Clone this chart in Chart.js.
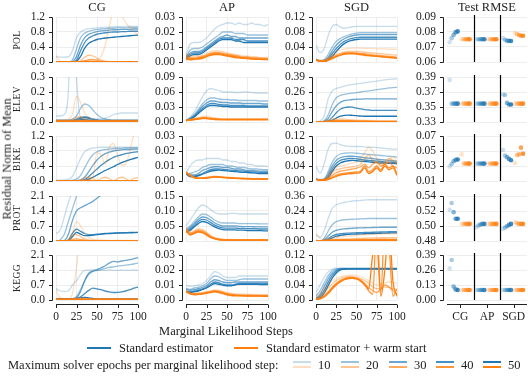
<!DOCTYPE html>
<html>
<head>
<meta charset="utf-8">
<title>Residual norm of mean</title>
<script src="https://cdn.jsdelivr.net/npm/chart.js@4.4.1/dist/chart.umd.min.js"></script>
<style>
  body { margin: 0; width: 528px; height: 376px; position: relative; overflow: hidden; background: #fff;
         font-family: 'Liberation Serif', serif; color: #222; }
  canvas { position: absolute; }
  .txt { position: absolute; white-space: nowrap; font-size: 12.5px; line-height: 1; transform: translate(-50%, -50%); }
  .left { transform: translate(0, -50%); }
  .rot { transform: translate(-50%, -50%) rotate(-90deg); }
  .row { font-size: 9.5px; letter-spacing: 0.4px; }
  .sw { position: absolute; height: 2px; }
</style>
</head>
<body>
<script>
// marginal likelihood steps (x values of every line)
const STEPS = [0, 5, 10, 15, 20, 25, 30, 35, 40, 45, 50, 55, 60, 65, 70, 75, 80, 85, 90, 95, 100];
const EPOCHS = [10, 20, 30, 40, 50];
const DATASETS = ['POL', 'ELEV', 'BIKE', 'PROT', 'KEGG'];
const SOLVERS = ['CG', 'AP', 'SGD'];

// y ticks per row: CG, AP, SGD, Test RMSE
const POL_TICKS = [[0, 0.4, 0.8, 1.2], [0, 0.01, 0.02, 0.03], [0, 0.04, 0.08, 0.12], [0.06, 0.07, 0.08, 0.09]];
const ELEV_TICKS = [[0, 0.1, 0.2, 0.3], [0, 0.03, 0.06, 0.09], [0, 0.13, 0.26, 0.39], [0.33, 0.35, 0.37, 0.39]];
const BIKE_TICKS = [[0, 0.4, 0.8, 1.2], [0, 0.01, 0.02, 0.03], [0, 0.04, 0.08, 0.12], [0.01, 0.03, 0.05, 0.07]];
const PROT_TICKS = [[0, 0.7, 1.4, 2.1], [0, 0.05, 0.1, 0.15], [0, 0.12, 0.24, 0.36], [0.48, 0.5, 0.52, 0.54]];
const KEGG_TICKS = [[0, 0.7, 1.4, 2.1], [0, 0.01, 0.02, 0.03], [0, 0.04, 0.08, 0.12], [0, 0.13, 0.26, 0.39]];
const TICK_DECIMALS = [1, 2, 2, 2];

// ---- POL ----
const POL_CG_STD = [
  [.14,.13,.13,.14,.30, .65,.80,.86,.89,.90, .91,.92,.93,.93,.94, .94,.94,.95,.95,.95, .95],
  [0,0,0,0,.05, .35,.65,.77,.82,.85, .87,.88,.89,.90,.90, .91,.91,.91,.92,.92, .92],
  [0,0,0,0,.01, .15,.45,.65,.74,.78, .81,.83,.84,.85,.86, .86,.87,.87,.87,.88, .88],
  [0,0,0,0,0, .05,.30,.52,.64,.70, .74,.76,.78,.79,.80, .80,.81,.81,.82,.82, .82],
  [0,0,0,0,0, .02,.15,.37,.50,.56, .60,.62,.64,.65,.66, .67,.68,.69,.70,.71, .72]
];
const POL_CG_WARM = [
  [.18,.02,0,0,0, 0,0,0,0,.01, .05,.15,.45,.95,1.35, 1.4,1.25,1.05,.92,.82, .72],
  [0,0,0,0,0, .01,.04,.13,.18,.16, .10,.05,.02,.01,.01, .01,.01,.01,.01,.01, .01],
  [0,0,0,0,0, 0,.01,.03,.06,.07, .05,.02,.01,.01,.01, .01,.01,.01,.01,.01, .01],
  [0,0,0,0,0, 0,.01,.02,.02,.02, .01,.01,.01,.01,.01, .01,.01,.01,.01,.01, .01],
  [0,0,0,0,0, 0,0,.01,.01,.01, .01,.01,.01,.01,.01, .01,.01,.01,.01,.01, .01]
];
const POL_AP_STD = [
  [.004,.012,.013,.013,.014, .016,.019,.022,.024,.025, .026,.026,.025,.026,.025, .025,.026,.025,.025,.024, .025],
  [.003,.008,.009,.009,.010, .012,.014,.016,.018,.020, .020,.020,.019,.019,.019, .018,.018,.018,.018,.018, .018],
  [.003,.006,.007,.007,.008, .010,.012,.014,.016,.017, .018,.017,.017,.016,.016, .016,.016,.016,.016,.016, .016],
  [.003,.005,.006,.006,.007, .009,.011,.013,.015,.016, .016,.016,.015,.015,.015, .014,.014,.014,.014,.014, .014],
  [.002,.004,.005,.005,.006, .008,.010,.012,.014,.015, .015,.015,.014,.014,.013, .013,.013,.013,.013,.013, .013]
];
const POL_AP_WARM = [
  [.006,.004,.004,.004,.005, .006,.007,.0075,.0075,.007, .006,.0055,.005,.0045,.004, .004,.0035,.0035,.003,.003, .003],
  [.005,.003,.003,.0035,.004, .005,.006,.0065,.0065,.006, .0055,.005,.0045,.004,.0035, .0035,.003,.003,.0028,.0027, .0026],
  [.004,.0025,.0025,.003,.0035, .0045,.0055,.006,.006,.0055, .005,.0045,.004,.0035,.003, .003,.0027,.0025,.0024,.0023, .0022],
  [.003,.002,.002,.0025,.003, .004,.005,.0055,.0055,.005, .0045,.004,.0035,.003,.0027, .0025,.0023,.0021,.002,.0019, .0018],
  [.002,.0015,.0018,.002,.0025, .0035,.0045,.005,.005,.0045, .004,.0035,.003,.0027,.0024, .0022,.002,.0018,.0017,.0016, .0015]
];
const POL_SGD_STD = [
  [.045,.025,.035,.07,.095, .10,.093,.09,.092,.094, .095,.095,.095,.095,.095, .095,.095,.095,.095,.095, .095],
  [.006,.004,.006,.02,.04, .055,.063,.068,.072,.075, .077,.078,.078,.078,.078, .078,.078,.078,.078,.078, .078],
  [.006,.003,.004,.012,.03, .045,.055,.062,.067,.07, .072,.073,.073,.073,.073, .073,.073,.073,.073,.073, .073],
  [.006,.003,.003,.008,.022, .036,.047,.055,.06,.063, .065,.066,.066,.066,.066, .066,.066,.066,.066,.066, .066],
  [.006,.002,.002,.005,.015, .028,.04,.049,.055,.058, .06,.061,.061,.061,.061, .061,.061,.061,.061,.061, .061]
];
const POL_SGD_WARM = [
  [.007,.004,.006,.012,.02, .027,.032,.035,.036,.037, .037,.037,.036,.036,.036, .035,.035,.035,.034,.034, .034],
  [.006,.003,.004,.009,.015, .02,.024,.027,.028,.028, .028,.027,.026,.025,.024, .023,.022,.021,.02,.019, .018],
  [.006,.002,.003,.007,.012, .017,.021,.024,.025,.025, .024,.023,.022,.021,.019, .018,.017,.016,.015,.014, .013],
  [.006,.002,.002,.005,.01, .015,.019,.022,.023,.023, .022,.021,.02,.018,.017, .016,.015,.014,.013,.012, .011],
  [.006,.002,.002,.004,.009, .014,.018,.021,.022,.022, .021,.02,.018,.017,.016, .015,.014,.013,.012,.011, .01]
];
// test RMSE per solver group (CG, AP, SGD), one value per epoch budget
const POL_RMSE_STD = [[.0732, .0759, .0781, .0799, .0804], [.0752, .0752, .0752, .0752, .0752], [.0759, .0748, .0741, .0741, .074]];
const POL_RMSE_WARM = [[.0752, .0752, .0752, .0752, .0752], [.0752, .0752, .0752, .0752, .0752], [.0793, .0786, .078, .0775, .0775]];

// ---- ELEV ----
const ELEV_CG_STD = [
  [.04,.04,.05,.2,1, .3,.03,.02,.02,.02, .02,.02,.025,.035,.05, .055,.06,.06,.06,.06, .06],
  [.01,.01,.01,.01,.02, .04,.09,.12,.11,.08, .05,.03,.02,.015,.01, .01,.01,.01,.01,.01, .01],
  [.01,.01,.01,.01,.01, .02,.03,.035,.03,.02, .015,.01,.01,.01,.01, .01,.01,.01,.01,.01, .01],
  [.01,.01,.01,.01,.01, .015,.025,.03,.025,.015, .01,.01,.01,.01,.01, .01,.01,.01,.01,.01, .01],
  [.008,.008,.008,.008,.008, .01,.015,.015,.012,.01, .008,.008,.008,.008,.008, .008,.008,.008,.008,.008, .008]
];
const ELEV_CG_WARM = [
  [.01,.01,.01,.02,.05, .17,.13,.06,.03,.015, .01,.01,.01,.01,.01, .01,.01,.01,.01,.01, .01],
  [.01,.01,.01,.01,.015, .03,.035,.02,.01,.01, .008,.008,.008,.008,.008, .008,.008,.008,.008,.008, .008],
  [.006,.006,.006,.006,.008, .012,.012,.01,.008,.006, .006,.006,.006,.006,.006, .006,.006,.006,.006,.006, .006],
  [.005,.005,.005,.005,.005, .006,.006,.006,.005,.005, .005,.005,.005,.005,.005, .005,.005,.005,.005,.005, .005],
  [.005,.005,.005,.005,.005, .005,.005,.005,.005,.005, .005,.005,.005,.005,.005, .005,.005,.005,.005,.005, .005]
];
const ELEV_AP_STD = [
  [.003,.01,.02,.035,.05, .062,.067,.065,.063,.06, .06,.06,.059,.059,.06, .06,.059,.058,.058,.058, .058],
  [.003,.008,.015,.025,.036, .044,.048,.048,.046,.045, .045,.044,.044,.043,.043, .043,.043,.043,.042,.042, .042],
  [.003,.007,.013,.022,.031, .038,.042,.042,.04,.039, .039,.038,.038,.038,.037, .037,.037,.037,.037,.036, .036],
  [.003,.006,.011,.019,.027, .033,.037,.037,.035,.034, .034,.033,.033,.033,.033, .032,.032,.032,.032,.032, .032],
  [.003,.005,.01,.017,.024, .03,.033,.033,.032,.031, .031,.03,.03,.03,.03, .03,.03,.03,.03,.03, .03]
];
const ELEV_AP_WARM = [
  [.003,.005,.007,.009,.011, .012,.01,.008,.007,.006, .006,.006,.006,.006,.006, .006,.006,.006,.006,.006, .006],
  [.003,.005,.006,.008,.009, .009,.008,.007,.006,.0055, .0055,.0055,.0055,.0055,.0055, .0055,.0055,.0055,.0055,.0055, .0055],
  [.003,.004,.006,.007,.008, .008,.007,.006,.0055,.005, .005,.005,.005,.005,.005, .005,.005,.005,.005,.005, .005],
  [.003,.004,.005,.0065,.0075, .0075,.0065,.0055,.005,.005, .005,.005,.005,.005,.005, .005,.005,.005,.005,.005, .005],
  [.003,.004,.005,.006,.007, .007,.006,.005,.005,.0048, .0048,.0048,.0048,.0048,.0048, .0048,.0048,.0048,.0048,.0048, .0048]
];
const ELEV_SGD_STD = [
  [0,.01,.05,.2,.27, .29,.3,.31,.32,.325, .33,.335,.34,.345,.35, .355,.36,.365,.37,.372, .375],
  [0,0,.01,.06,.15, .21,.23,.24,.245,.25, .255,.26,.265,.27,.275, .28,.285,.29,.295,.298, .3],
  [0,0,.005,.03,.09, .14,.17,.185,.19,.195, .197,.198,.2,.2,.2, .2,.2,.2,.2,.2, .2],
  [0,0,0,.01,.04, .08,.11,.125,.13,.128, .12,.113,.108,.104,.1, .1,.1,.1,.1,.1, .1],
  [0,0,0,.005,.015, .035,.05,.058,.06,.058, .055,.052,.05,.05,.05, .05,.05,.05,.05,.05, .05]
];
const ELEV_SGD_WARM = [
  [0,0,.005,.015,.025, .03,.028,.025,.022,.02, .018,.016,.015,.014,.013, .012,.012,.011,.011,.01, .01],
  [0,0,.003,.01,.016, .02,.019,.017,.015,.013, .012,.011,.01,.009,.009, .008,.008,.008,.007,.007, .007],
  [0,0,.002,.006,.01, .012,.012,.011,.01,.009, .008,.007,.007,.006,.006, .006,.005,.005,.005,.005, .005],
  [0,0,.001,.004,.007, .008,.008,.007,.007,.006, .006,.005,.005,.005,.004, .004,.004,.004,.004,.004, .004],
  [0,0,.001,.003,.005, .006,.006,.006,.005,.005, .004,.004,.004,.004,.003, .003,.003,.003,.003,.003, .003]
];
const ELEV_RMSE_STD = [[.386, .3545, .3545, .3545, .3545], [.3545, .3545, .3545, .3545, .3545], [.3667, .366, .3555, .3533, .3533]];
const ELEV_RMSE_WARM = [[.3545, .3545, .3545, .3545, .3545], [.3545, .3545, .3545, .3545, .3545], [.3545, .3545, .3545, .3545, .3545]];

// ---- BIKE ----
const BIKE_CG_STD = [
  [.02,.02,.03,.05,.12, .35,.6,.78,.85,.88, .89,.9,.9,.9,.9, .9,.9,.9,.9,.9, .9],
  [.01,.01,.01,.01,.02, .05,.15,.35,.55,.7, .78,.82,.84,.85,.86, .87,.87,.88,.88,.88, .88],
  [0,0,0,0,0, .01,.03,.1,.25,.42, .56,.66,.73,.77,.8, .82,.83,.84,.84,.85, .85],
  [0,0,0,0,0, 0,.01,.04,.12,.22, .32,.42,.5,.57,.63, .67,.7,.73,.75,.77, .78],
  [0,0,0,0,0, 0,0,.01,.05,.1, .16,.22,.28,.33,.38, .44,.49,.53,.57,.6, .63]
];
const BIKE_CG_WARM = [
  [0,0,0,0,0, 0,0,0,.02,.1, .75,.7,.45,.9,1.0, .7,.42,.45,.8,1.25, 1.4],
  [0,0,0,0,0, 0,.02,.08,.1,.06, .01,.06,.1,.06,.01, .06,.1,.06,.01,.07, .09],
  [0,0,0,0,0, 0,.01,.02,.02,.01, .01,.01,.01,.01,.01, .01,.01,.01,.01,.01, .01],
  [.005,.005,.005,.005,.005, .005,.005,.005,.005,.005, .005,.005,.005,.005,.005, .005,.005,.005,.005,.005, .005],
  [.005,.005,.005,.005,.005, .005,.005,.005,.005,.005, .005,.005,.005,.005,.005, .005,.005,.005,.005,.005, .005]
];
const BIKE_AP_STD = [
  [.005,.01,.013,.014,.014, .015,.015,.015,.015,.014, .014,.013,.013,.012,.012, .011,.011,.01,.01,.01, .0095],
  [.005,.005,.006,.007,.009, .01,.011,.011,.011,.011, .01,.01,.0095,.009,.009, .0085,.008,.008,.0078,.0076, .0075],
  [.005,.004,.004,.005,.007, .008,.009,.0095,.0095,.009, .009,.0085,.008,.008,.0075, .007,.007,.0068,.0066,.0065, .0065],
  [.005,.003,.003,.004,.005, .0065,.0075,.008,.008,.0078, .0075,.0072,.007,.0068,.0066, .0063,.006,.006,.0058,.0056, .0055],
  [.005,.003,.003,.0035,.0045, .0055,.0065,.007,.0072,.007, .0068,.0065,.0062,.006,.0058, .0056,.0054,.0052,.005,.005, .005]
];
const BIKE_AP_WARM = [
  [.005,.003,.002,.002,.0022, .0025,.003,.0032,.003,.0028, .0026,.0024,.0022,.002,.002, .0019,.0018,.0017,.0017,.0016, .0016],
  [.0055,.0035,.0022,.002,.002, .0023,.0027,.003,.0028,.0026, .0024,.0022,.002,.0019,.0018, .0017,.0016,.0016,.0015,.0015, .0015],
  [.006,.004,.0025,.002,.002, .0022,.0026,.0028,.0027,.0025, .0023,.0021,.0019,.0018,.0017, .0016,.0015,.0015,.0014,.0014, .0014],
  [.006,.004,.0025,.0018,.0018, .002,.0024,.0027,.0026,.0024, .0022,.002,.0018,.0017,.0016, .0015,.0014,.0014,.0013,.0013, .0013],
  [.0055,.0038,.0023,.0017,.0017, .0019,.0023,.0026,.0025,.0023, .0021,.0019,.0017,.0016,.0015, .0014,.0013,.0013,.0012,.0012, .0012]
];
const BIKE_SGD_STD = [
  [.039,.021,.045,.085,.1, .101,.097,.094,.093,.092, .092,.092,.091,.09,.09, .089,.088,.087,.086,.085, .085],
  [.005,.004,.006,.025,.05, .065,.072,.074,.075,.075, .074,.073,.072,.071,.07, .069,.068,.067,.066,.065, .064],
  [.005,.003,.004,.018,.04, .055,.062,.065,.066,.066, .065,.064,.062,.061,.06, .058,.057,.056,.055,.054, .053],
  [.005,.002,.003,.012,.032, .047,.055,.058,.06,.06, .059,.058,.056,.055,.054, .053,.052,.051,.05,.05, .049],
  [.005,.002,.002,.008,.025, .04,.048,.052,.054,.055, .054,.053,.052,.051,.05, .049,.048,.048,.047,.047, .046]
];
const BIKE_SGD_WARM = [
  [.005,.003,.006,.015,.03, .038,.04,.042,.045,.048, .05,.058,.075,.09,.08, .06,.05,.045,.055,.065, .05],
  [.005,.002,.004,.01,.022, .03,.032,.035,.036,.038, .04,.045,.06,.07,.055, .05,.045,.05,.06,.055, .045],
  [.005,.002,.003,.007,.015, .022,.026,.028,.03,.032, .034,.038,.045,.035,.045, .05,.04,.045,.05,.04, .035],
  [.005,.002,.002,.005,.01, .015,.019,.021,.022,.023, .024,.026,.04,.025,.03, .04,.03,.045,.035,.04, .02],
  [.005,.002,.002,.004,.008, .012,.016,.018,.019,.02, .021,.023,.035,.02,.025, .035,.025,.04,.03,.035, .015]
];
const BIKE_RMSE_STD = [[.0295, .0327, .0364, .0382, .0386], [.0332, .0332, .0332, .0332, .0332], [.0514, .0441, .0418, .0395, .0377]];
const BIKE_RMSE_WARM = [[.0455, .0332, .0332, .0332, .0332], [.0332, .0332, .0332, .0332, .0332], [.0341, .0445, .0455, .0545, .0464]];

// ---- PROT ----
const PROT_CG_STD = [
  [.35,.5,1.1,1.8,2.3, 3,3,3,3,3, 3,3,3,3,3, 3,3,3,3,3, 3],
  [0,.05,.3,.9,1.5, 2.1,2.8,3,3,3, 3,3,3,3,3, 3,3,3,3,3, 3],
  [0,0,.02,.3,.95, 1.4,1.55,1.65,1.75,1.85, 2.0,2.15,2.3,2.5,2.7, 2.9,3,3,3,3, 3],
  [0,0,0,.05,.35, .55,.45,.35,.3,.3, .32,.33,.35,.36,.37, .38,.38,.39,.4,.4, .4],
  [0,0,0,.02,.2, .4,.32,.25,.25,.27, .3,.32,.34,.35,.36, .37,.38,.38,.38,.39, .4]
];
const PROT_CG_WARM = [
  [0,0,0,.05,.4, .9,.7,.35,.15,.08, .06,.05,.04,.03,.03, .03,.03,.03,.03,.03, .03],
  [0,0,0,.05,.25, .3,.2,.1,.05,.03, .02,.02,.02,.02,.02, .02,.02,.02,.02,.02, .02],
  [0,0,0,.02,.08, .1,.07,.04,.02,.02, .01,.01,.01,.01,.01, .01,.01,.01,.01,.01, .01],
  [.01,.01,.01,.01,.02, .03,.02,.01,.01,.01, .01,.01,.01,.01,.01, .01,.01,.01,.01,.01, .01],
  [.01,.01,.01,.01,.01, .02,.01,.01,.01,.01, .01,.01,.01,.01,.01, .01,.01,.01,.01,.01, .01]
];
const PROT_AP_STD = [
  [.05,.07,.09,.11,.12, .115,.105,.095,.09,.09, .09,.092,.092,.09,.09, .09,.09,.09,.09,.09, .09],
  [.04,.05,.065,.08,.09, .088,.08,.07,.063,.06, .06,.06,.06,.058,.058, .058,.058,.058,.057,.057, .057],
  [.035,.045,.058,.072,.08, .078,.07,.06,.054,.05, .05,.05,.05,.049,.048, .048,.048,.047,.047,.047, .047],
  [.03,.04,.052,.065,.072, .07,.062,.053,.047,.044, .043,.043,.043,.042,.042, .041,.041,.041,.04,.04, .04],
  [.03,.035,.047,.058,.065, .062,.055,.047,.041,.038, .037,.037,.037,.036,.036, .035,.035,.035,.035,.034, .034]
];
const PROT_AP_WARM = [
  [.045,.03,.035,.042,.04, .03,.02,.012,.008,.006, .005,.005,.004,.004,.004, .004,.004,.004,.004,.004, .004],
  [.042,.027,.032,.038,.036, .027,.017,.01,.007,.005, .004,.004,.004,.004,.004, .004,.004,.004,.004,.004, .004],
  [.04,.025,.03,.035,.033, .024,.015,.009,.006,.004, .0035,.0035,.0035,.0035,.0035, .0035,.0035,.0035,.0035,.0035, .0035],
  [.038,.022,.027,.032,.03, .022,.013,.008,.005,.0035, .003,.003,.003,.003,.003, .003,.003,.003,.003,.003, .003],
  [.035,.02,.025,.03,.028, .02,.012,.007,.004,.003, .003,.003,.003,.003,.003, .003,.003,.003,.003,.003, .003]
];
const PROT_SGD_STD = [
  [.05,.03,.08,.18,.26, .29,.3,.31,.315,.32, .322,.325,.327,.33,.33, .33,.33,.33,.33,.33, .33],
  [0,0,.02,.08,.13, .155,.165,.17,.172,.174, .175,.177,.178,.18,.18, .18,.18,.18,.18,.18, .18],
  [0,0,.01,.04,.07, .085,.093,.097,.1,.102, .104,.105,.106,.107,.108, .109,.11,.11,.11,.11, .11],
  [0,0,.005,.02,.04, .052,.058,.061,.063,.065, .066,.067,.068,.069,.07, .071,.072,.073,.074,.075, .075],
  [0,0,.002,.01,.025, .038,.045,.05,.053,.055, .056,.057,.058,.059,.06, .061,.062,.063,.064,.065, .065]
];
const PROT_SGD_WARM = [
  [.06,.02,.015,.02,.025, .03,.033,.036,.039,.042, .045,.048,.05,.052,.054, .055,.056,.057,.058,.058, .058],
  [.005,.002,.005,.01,.012, .014,.015,.016,.017,.018, .02,.021,.022,.023,.024, .025,.026,.026,.027,.027, .028],
  [.004,.002,.003,.006,.008, .009,.01,.01,.011,.011, .012,.012,.013,.013,.013, .014,.014,.014,.015,.015, .015],
  [.003,.001,.002,.004,.005, .006,.006,.007,.007,.007, .008,.008,.008,.008,.009, .009,.009,.009,.009,.01, .01],
  [.003,.001,.002,.003,.004, .004,.005,.005,.005,.005, .005,.006,.006,.006,.006, .006,.006,.006,.006,.006, .006]
];
const PROT_RMSE_STD = [[.5216, .5306, .5185, .5096, .5096], [.4983, .5006, .5019, .5028, .5028], [.4961, .4979, .4997, .5015, .5028]];
const PROT_RMSE_WARM = [[.5028, .5028, .5028, .5028, .5028], [.5028, .5028, .5028, .5028, .5028], [.5051, .5037, .5028, .5028, .5028]];

// ---- KEGG ----
const KEGG_CG_STD = [
  [.55,.42,.4,.42,.7, .9,1.2,1.38,1.4,1.4, 1.38,1.38,1.38,1.4,1.38, 1.38,1.4,1.38,1.38,1.4, 1.38],
  [.05,.05,.05,.05,.06, .15,.5,.9,1.2,1.33, 1.38,1.42,1.48,1.52,1.55, 1.58,1.6,1.63,1.65,1.68, 1.72],
  [.05,.05,.05,.05,.05, .1,.4,.9,1.25,1.35, 1.42,1.5,1.6,1.72,1.8, 1.78,1.82,1.85,1.88,1.93, 1.98],
  [.05,.05,.05,.05,.05, .06,.15,.3,.45,.55, .52,.48,.42,.38,.35, .36,.38,.42,.48,.55, .6],
  [.05,.05,.05,.05,.05, .07,.1,.12,.1,.07, .05,.05,.05,.05,.05, .05,.05,.05,.05,.05, .05]
];
const KEGG_CG_WARM = [
  [.5,.1,.05,.05,.3, 1.5,3,3,3,3, 3,3,3,3,3, 3,3,3,3,3, 3],
  [.05,.05,.05,.05,.06, .08,.1,.08,.06,.05, .05,.05,.05,.05,.05, .05,.05,.05,.05,.05, .05],
  [.04,.04,.04,.04,.04, .05,.06,.05,.04,.04, .04,.04,.04,.04,.04, .04,.04,.04,.04,.04, .04],
  [.03,.03,.03,.03,.03, .03,.04,.03,.03,.03, .03,.03,.03,.03,.03, .03,.03,.03,.03,.03, .03],
  [.03,.03,.03,.03,.03, .03,.03,.03,.03,.03, .03,.03,.03,.03,.03, .03,.03,.03,.03,.03, .03]
];
const KEGG_AP_STD = [
  [.01,.009,.0095,.01,.011, .013,.016,.019,.018,.016, .015,.015,.015,.016,.016, .016,.016,.016,.016,.016, .016],
  [.008,.007,.008,.0085,.0095, .011,.014,.016,.0155,.014, .013,.013,.013,.0135,.014, .014,.014,.014,.014,.014, .014],
  [.007,.0065,.007,.0075,.0085, .0095,.012,.0135,.013,.012, .0115,.0115,.012,.012,.012, .012,.012,.012,.012,.012, .012],
  [.006,.0055,.006,.0065,.0075, .0085,.0105,.012,.0115,.0105, .01,.01,.0105,.011,.011, .011,.011,.011,.011,.011, .011],
  [.0055,.005,.0055,.006,.007, .008,.0095,.011,.0105,.0098, .0095,.0095,.01,.0105,.0105, .0105,.0105,.0105,.0103,.0103, .0103]
];
const KEGG_AP_WARM = [
  [.0065,.0048,.0045,.0047,.005, .0055,.0062,.0068,.0065,.0058, .005,.0045,.0042,.004,.004, .0038,.0038,.0037,.0037,.0036, .0036],
  [.0062,.0046,.0042,.0044,.0047, .0052,.0058,.0064,.006,.0053, .0046,.0041,.0038,.0036,.0035, .0034,.0034,.0033,.0033,.0032, .0032],
  [.006,.0044,.004,.0041,.0044, .0049,.0055,.006,.0057,.005, .0042,.0037,.0034,.0032,.0031, .003,.003,.0029,.0029,.0029, .0028],
  [.0058,.0042,.0037,.0039,.0042, .0047,.0052,.0057,.0053,.0046, .0038,.0033,.0031,.0029,.0028, .0028,.0027,.0027,.0027,.0026, .0026],
  [.0055,.004,.0035,.0037,.004, .0045,.005,.0055,.005,.0042, .0035,.003,.0028,.0027,.0027, .0026,.0026,.0026,.0026,.0025, .0025]
];
const KEGG_SGD_STD = [
  [.02,.04,.06,.075,.082, .085,.085,.085,.085,.085, .085,.085,.085,.085,.085, .085,.085,.085,.085,.085, .085],
  [.01,.025,.045,.065,.078, .083,.084,.084,.084,.084, .084,.084,.084,.084,.084, .084,.084,.084,.084,.084, .084],
  [.005,.015,.035,.056,.072, .08,.083,.083,.083,.083, .083,.083,.083,.083,.083, .083,.083,.083,.083,.083, .083],
  [.003,.01,.025,.047,.065, .077,.082,.083,.083,.083, .083,.083,.083,.083,.083, .083,.083,.083,.083,.083, .083],
  [.002,.006,.018,.038,.058, .072,.08,.082,.083,.083, .083,.083,.083,.083,.083, .083,.083,.083,.083,.083, .083]
];
const KEGG_SGD_WARM = [
  [.01,.02,.03,.042,.052, .058,.062,.065,.066,.066, .065,.062,.058,.052,.045, .04,.042,.045,.048,.047, .045],
  [.005,.01,.02,.032,.043, .052,.058,.061,.062,.062, .06,.057,.052,.045,.035, .03,.032,.035,.033,.03, .027],
  [.003,.005,.012,.022,.034, .045,.052,.057,.06,.06, .058,.053,.045,.033,.025, .02,.03,.04,.035,.025, .015],
  [.002,.004,.01,.02,.032, .043,.051,.056,.058,.058, .056,.05,.04,.025,.015, .2,.02,.2,.15,.01, .03],
  [.002,.003,.008,.017,.029, .04,.048,.054,.057,.058, .057,.052,.042,.03,.12, .15,.01,.08,.2,.05, .01]
];
const KEGG_RMSE_STD = [[.274, .347, .116, .092, .087], [.087, .087, .087, .087, .087], [.087, .087, .087, .087, .087]];
const KEGG_RMSE_WARM = [[.087, .087, .087, .087, .087], [.087, .087, .087, .087, .087], [.087, .087, .087, .087, .087]];

const ROWS = {
  POL: { ticks: POL_TICKS, std: [POL_CG_STD, POL_AP_STD, POL_SGD_STD], warm: [POL_CG_WARM, POL_AP_WARM, POL_SGD_WARM], rmseStd: POL_RMSE_STD, rmseWarm: POL_RMSE_WARM },
  ELEV: { ticks: ELEV_TICKS, std: [ELEV_CG_STD, ELEV_AP_STD, ELEV_SGD_STD], warm: [ELEV_CG_WARM, ELEV_AP_WARM, ELEV_SGD_WARM], rmseStd: ELEV_RMSE_STD, rmseWarm: ELEV_RMSE_WARM },
  BIKE: { ticks: BIKE_TICKS, std: [BIKE_CG_STD, BIKE_AP_STD, BIKE_SGD_STD], warm: [BIKE_CG_WARM, BIKE_AP_WARM, BIKE_SGD_WARM], rmseStd: BIKE_RMSE_STD, rmseWarm: BIKE_RMSE_WARM },
  PROT: { ticks: PROT_TICKS, std: [PROT_CG_STD, PROT_AP_STD, PROT_SGD_STD], warm: [PROT_CG_WARM, PROT_AP_WARM, PROT_SGD_WARM], rmseStd: PROT_RMSE_STD, rmseWarm: PROT_RMSE_WARM },
  KEGG: { ticks: KEGG_TICKS, std: [KEGG_CG_STD, KEGG_AP_STD, KEGG_SGD_STD], warm: [KEGG_CG_WARM, KEGG_AP_WARM, KEGG_SGD_WARM], rmseStd: KEGG_RMSE_STD, rmseWarm: KEGG_RMSE_WARM }
};

// ---- styling / layout ----
Chart.defaults.font.family = "'Liberation Serif', serif";
Chart.defaults.font.size = 11.5;
Chart.defaults.color = '#222';

const GRID = '#e8e8e8';
const INK = '#222';
const BLUE = '31,119,180';
const ORANGE = '255,127,14';
const SHADES = [0.25, 0.45, 0.65, 0.82, 1];

const PLOT_LEFT = [56, 186, 316, 447];
const PLOT_W = [82, 82, 81, 80];
const ROW_TOP = 17, ROW_STEP = 59.6, PLOT_H = 45;
const AXIS_W = 46, PAD_T = 8;

// offset, trimmed spines like seaborn's despine(offset, trim)
const spines = {
  id: 'spines',
  afterDraw(chart, args, opts) {
    const { ctx, chartArea: a, scales: { x, y } } = chart;
    ctx.save();
    ctx.strokeStyle = INK;
    ctx.lineWidth = 1;
    ctx.beginPath();
    const sx = Math.round(a.left - 4) + 0.5;
    const ys = y.ticks.map(t => Math.round(y.getPixelForValue(t.value)) + 0.5);
    ctx.moveTo(sx, Math.min(...ys));
    ctx.lineTo(sx, Math.max(...ys));
    ys.forEach(p => { ctx.moveTo(sx, p); ctx.lineTo(sx - 3.5, p); });
    if (opts.bottom) {
      const sy = Math.round(a.bottom + 4) + 0.5;
      ctx.moveTo(x.getPixelForValue(x.min), sy);
      ctx.lineTo(x.getPixelForValue(x.max), sy);
      x.ticks.forEach(t => {
        const p = Math.round(x.getPixelForValue(t.value)) + 0.5;
        ctx.moveTo(p, sy);
        ctx.lineTo(p, sy + 3.5);
      });
    }
    ctx.stroke();
    if (opts.groups) {
      ctx.strokeStyle = '#000';
      ctx.lineWidth = 1.2;
      ctx.beginPath();
      for (let g = 1; g < opts.groups; g++) {
        const p = Math.round(x.getPixelForValue(g)) + 0.5;
        ctx.moveTo(p, a.top - 2);
        ctx.lineTo(p, a.bottom);
      }
      ctx.stroke();
    }
    ctx.restore();
  }
};

function rightPad(c) { return c === 3 ? 1 : 12; }

function makeCanvas(r, c, last) {
  const canvas = document.createElement('canvas');
  const top = Math.round(ROW_TOP + r * ROW_STEP);
  canvas.width = AXIS_W + PLOT_W[c] + rightPad(c);
  canvas.height = PAD_T + PLOT_H + (last ? 26 : 7);
  canvas.style.left = (PLOT_LEFT[c] - AXIS_W) + 'px';
  canvas.style.top = (top - PAD_T) + 'px';
  document.body.appendChild(canvas);
  return canvas;
}

function yScale(ticks, dec) {
  return {
    min: ticks[0],
    max: ticks[ticks.length - 1],
    afterBuildTicks: s => { s.ticks = ticks.map(v => ({ value: v })); },
    // fixed axis width and no label insets, so every plot area is the same size
    afterFit: s => { s.width = AXIS_W; s.paddingTop = 0; s.paddingBottom = 0; },
    ticks: { padding: 11, autoSkip: false, callback: v => v.toFixed(dec) },
    grid: { color: GRID, lineWidth: 0.8, drawTicks: false },
    border: { display: false }
  };
}

function makePanel(r, c) {
  const name = DATASETS[r];
  const row = ROWS[name];
  const last = r === DATASETS.length - 1;
  const canvas = makeCanvas(r, c, last);
  const isRmse = c === 3;
  const datasets = [];

  if (!isRmse) {
    [[row.std[c], BLUE], [row.warm[c], ORANGE]].forEach(([sets, rgb]) => {
      sets.forEach((vals, k) => datasets.push({
        data: vals.map((v, i) => ({ x: STEPS[i], y: v })),
        borderColor: `rgba(${rgb},${SHADES[k]})`,
        borderWidth: 1.3,
        pointRadius: 0,
        cubicInterpolationMode: 'monotone'
      }));
    });
  } else {
    // dodge: standard estimator left half of each solver slot, warm start right half
    [[row.rmseStd, BLUE, 0.1], [row.rmseWarm, ORANGE, 0.55]].forEach(([groups, rgb, start]) => {
      EPOCHS.forEach((e, k) => datasets.push({
        data: groups.map((vals, g) => ({ x: g + start + 0.075 * k, y: vals[k] })),
        backgroundColor: `rgba(${rgb},${SHADES[k] * 0.85})`,
        borderWidth: 0,
        pointRadius: 2.3
      }));
    });
  }
  datasets.reverse(); // first dataset is drawn on top in Chart.js

  const xTicks = isRmse ? [0.5, 1.5, 2.5] : [0, 25, 50, 75, 100];
  new Chart(canvas, {
    type: isRmse ? 'scatter' : 'line',
    data: { datasets },
    options: {
      responsive: false,
      animation: false,
      events: [],
      layout: { autoPadding: false, padding: { left: 0, top: PAD_T, right: rightPad(c), bottom: 0 } },
      plugins: { legend: { display: false }, tooltip: { enabled: false }, spines: { bottom: last, groups: isRmse ? 3 : 0 } },
      scales: {
        x: {
          type: 'linear',
          min: 0,
          max: isRmse ? 3 : 100,
          afterBuildTicks: s => { s.ticks = xTicks.map(v => ({ value: v })); },
          afterFit: s => { s.height = last ? 26 : 7; s.paddingLeft = 0; s.paddingRight = 0; },
          ticks: { display: last, padding: 10, autoSkip: false, maxRotation: 0, callback: (v, i) => isRmse ? SOLVERS[i] : String(v) },
          grid: { display: !isRmse, color: GRID, lineWidth: 0.8, drawTicks: false },
          border: { display: false }
        },
        y: yScale(row.ticks[c], TICK_DECIMALS[c])
      }
    },
    plugins: [spines]
  });
}

DATASETS.forEach((d, r) => { for (let c = 0; c < 4; c++) makePanel(r, c); });

// ---- text and legend ----
function text(str, x, y, cls) {
  const el = document.createElement('div');
  el.className = 'txt ' + (cls || '');
  el.textContent = str;
  el.style.left = x + 'px';
  el.style.top = y + 'px';
  document.body.appendChild(el);
}
function swatch(x, y, w, color) {
  const el = document.createElement('div');
  el.className = 'sw';
  el.style.left = x + 'px';
  el.style.top = y + 'px';
  el.style.width = w + 'px';
  el.style.background = color;
  document.body.appendChild(el);
}

SOLVERS.concat(['Test RMSE']).forEach((s, c) => text(s, PLOT_LEFT[c] + PLOT_W[c] / 2, 6.5));
DATASETS.forEach((d, r) => text(d, 17.5, ROW_TOP + r * ROW_STEP + PLOT_H / 2, 'rot row'));
text('Residual Norm of Mean', 6.5, 159, 'rot');
text('Marginal Likelihood Steps', 226, 331);

swatch(87, 347, 24, `rgb(${BLUE})`);
text('Standard estimator', 119, 348, 'left');
swatch(234, 347, 24, `rgb(${ORANGE})`);
text('Standard estimator + warm start', 266, 348, 'left');

text('Maximum solver epochs per marginal likelihood step:', 8, 365, 'left');
const LEGEND_X = [293, 341, 389, 436, 483];
EPOCHS.forEach((e, k) => {
  swatch(LEGEND_X[k], 361, 18, `rgba(${BLUE},${SHADES[k]})`);
  swatch(LEGEND_X[k], 366, 18, `rgba(${ORANGE},${SHADES[k]})`);
  text(String(e), LEGEND_X[k] + 25, 365, 'left');
});
</script>
</body>
</html>
